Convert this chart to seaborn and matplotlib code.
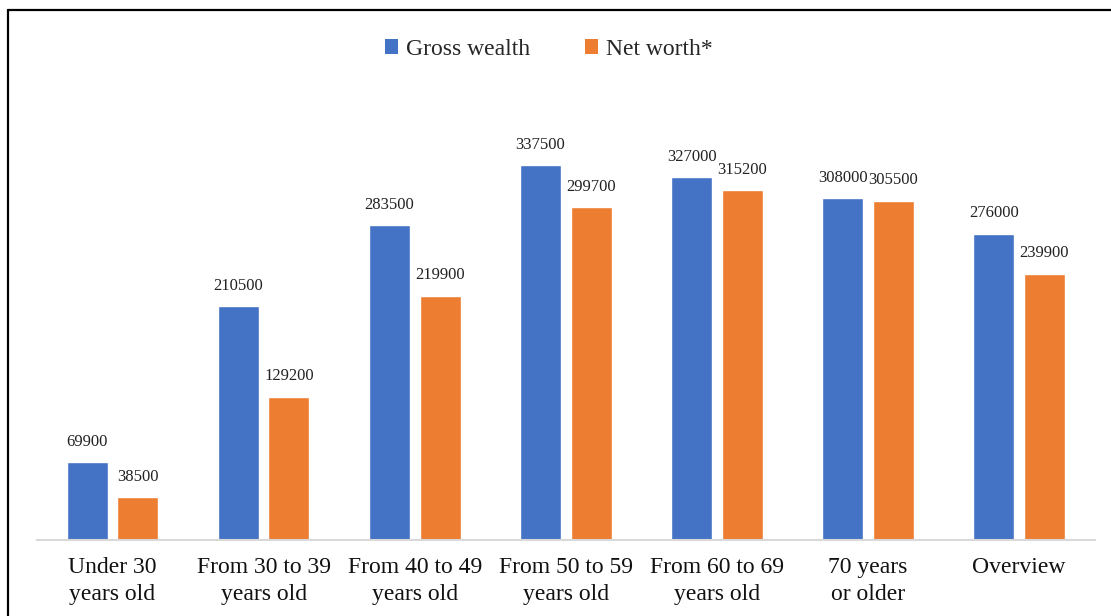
import matplotlib
matplotlib.use("Agg")
import matplotlib.pyplot as plt
from matplotlib.lines import Line2D
from matplotlib.patches import Patch
import pandas as pd
import seaborn as sns

# Age groups and wealth figures (median values)
age_groups = ["Under 30\nyears old", "From 30 to 39\nyears old", "From 40 to 49\nyears old",
              "From 50 to 59\nyears old", "From 60 to 69\nyears old", "70 years\nor older",
              "Overview"]
gross_wealth = [69900, 210500, 283500, 337500, 327000, 308000, 276000]
net_worth = [38500, 129200, 219900, 299700, 315200, 305500, 239900]
series_names = ["Gross wealth", "Net worth*"]
colors = ["#4472C4", "#ED7D31"]

df = pd.DataFrame({
    "group": age_groups * 2,
    "value": gross_wealth + net_worth,
    "series": [series_names[0]] * len(age_groups) + [series_names[1]] * len(age_groups),
})

sns.set_theme(style="white")
plt.rcParams["font.family"] = ["Liberation Serif", "DejaVu Serif"]

fig = plt.figure(figsize=(11.11, 6.16), dpi=100)
ax = fig.add_axes([0.0333, 0.1234, 0.952, 0.7208])

sns.barplot(data=df, x="group", y="value", hue="series", palette=colors,
            order=age_groups, hue_order=series_names, errorbar=None,
            width=0.67, gap=0.19, saturation=1, ax=ax, legend=False)

for container in ax.containers:
    ax.bar_label(container, fmt="{:.0f}", padding=9, fontsize=12, color="#222222")

ax.set_ylim(0, 400000)
ax.set_xlim(-0.5, len(age_groups) - 0.5)
ax.set_xlabel("")
ax.set_ylabel("")
ax.set_yticks([])
ax.tick_params(axis="x", length=0, pad=12, labelsize=17, labelcolor="#111111")
for lbl in ax.get_xticklabels():
    lbl.set_linespacing(1.4)
for side in ["top", "right", "left"]:
    ax.spines[side].set_visible(False)
ax.spines["bottom"].set_color("#D9D9D9")
ax.spines["bottom"].set_linewidth(1.5)

handles = [Patch(facecolor=c, edgecolor="none") for c in colors]
fig.legend(handles, series_names, loc="center", bbox_to_anchor=(0.494, 0.92),
           ncol=2, frameon=False, fontsize=17, handlelength=0.55, handleheight=0.55,
           handletextpad=0.35, columnspacing=2.3)

# Frame edges around the chart area
fig.add_artist(Line2D([8 / 1111, 1.0], [1 - 10 / 616, 1 - 10 / 616],
                      transform=fig.transFigure, color="black", linewidth=1.6))
fig.add_artist(Line2D([8 / 1111, 8 / 1111], [0.0, 1 - 10 / 616],
                      transform=fig.transFigure, color="black", linewidth=1.6))

fig.savefig("out.png", dpi=100, facecolor="white")
